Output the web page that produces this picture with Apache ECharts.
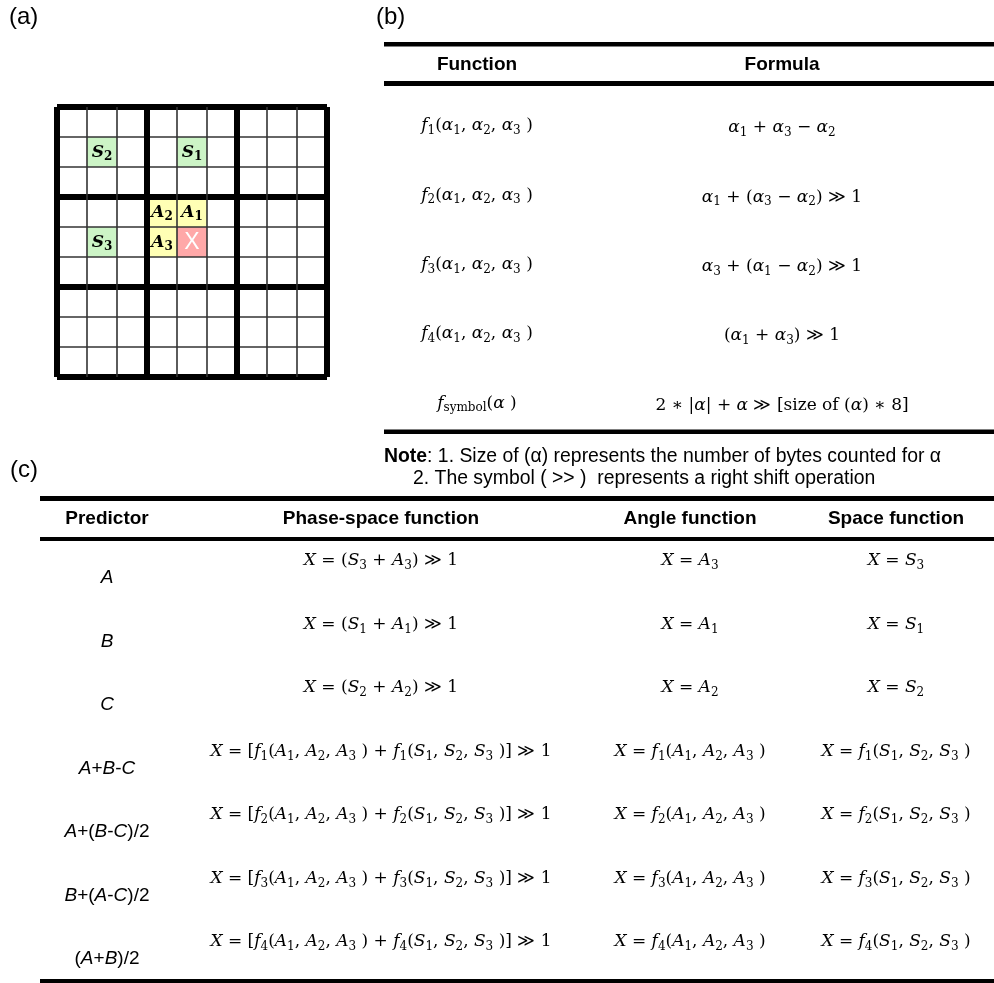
<!DOCTYPE html>
<html>
<head>
<meta charset="utf-8">
<script src="https://cdn.jsdelivr.net/npm/echarts@6/dist/echarts.min.js"></script>
<style>
  html, body { margin: 0; padding: 0; background: #fff; }
  #chart { width: 994px; height: 983px; }
</style>
</head>
<body>
<div id="chart"></div>
<script>
// ---------- (a) neighbourhood of the predicted sample in the 9x9 layout ----------
const gridSize = 9;
const blockSize = 3;
const cellNames = ['S', 'S', 'S', 'A', 'A', 'A', 'X'];
const cellSubs  = ['2', '1', '3', '2', '1', '3', ''];
const cellCols  = [1, 4, 1, 3, 4, 3, 4];
const cellRows  = [1, 1, 4, 3, 3, 4, 4];
const cellKinds = ['space', 'space', 'space', 'angle', 'angle', 'angle', 'target'];

// ---------- (b) helper functions ----------
const bHeaders = ['Function', 'Formula'];
const bFunctions = [
  '{i|f}{s|1}({i|α}{s|1}, {i|α}{s|2}, {i|α}{s|3} )',
  '{i|f}{s|2}({i|α}{s|1}, {i|α}{s|2}, {i|α}{s|3} )',
  '{i|f}{s|3}({i|α}{s|1}, {i|α}{s|2}, {i|α}{s|3} )',
  '{i|f}{s|4}({i|α}{s|1}, {i|α}{s|2}, {i|α}{s|3} )',
  '{i|f}{s|symbol}({i|α} )'
];
const bFormulas = [
  '{i|α}{s|1} + {i|α}{s|3} − {i|α}{s|2}',
  '{i|α}{s|1} + ({i|α}{s|3} − {i|α}{s|2}) ≫ 1',
  '{i|α}{s|3} + ({i|α}{s|1} − {i|α}{s|2}) ≫ 1',
  '({i|α}{s|1} + {i|α}{s|3}) ≫ 1',
  '2 ∗ |{i|α}| + {i|α} ≫ [size of ({i|α}) ∗ 8]'
];
const noteLines = [
  '{b|Note}: 1. Size of (α) represents the number of bytes counted for α',
  '2. The symbol ( >> )  represents a right shift operation'
];

// ---------- (c) predictors ----------
const cHeaders = ['Predictor', 'Phase-space function', 'Angle function', 'Space function'];
const cPredictors = [
  '{i|A}', '{i|B}', '{i|C}',
  '{i|A}+{i|B}-{i|C}',
  '{i|A}+({i|B}-{i|C})/2',
  '{i|B}+({i|A}-{i|C})/2',
  '({i|A}+{i|B})/2'
];
const cPhase = [
  '{i|X} = ({i|S}{s|3} + {i|A}{s|3}) ≫ 1',
  '{i|X} = ({i|S}{s|1} + {i|A}{s|1}) ≫ 1',
  '{i|X} = ({i|S}{s|2} + {i|A}{s|2}) ≫ 1',
  '{i|X} = [{i|f}{s|1}({i|A}{s|1}, {i|A}{s|2}, {i|A}{s|3} ) + {i|f}{s|1}({i|S}{s|1}, {i|S}{s|2}, {i|S}{s|3} )] ≫ 1',
  '{i|X} = [{i|f}{s|2}({i|A}{s|1}, {i|A}{s|2}, {i|A}{s|3} ) + {i|f}{s|2}({i|S}{s|1}, {i|S}{s|2}, {i|S}{s|3} )] ≫ 1',
  '{i|X} = [{i|f}{s|3}({i|A}{s|1}, {i|A}{s|2}, {i|A}{s|3} ) + {i|f}{s|3}({i|S}{s|1}, {i|S}{s|2}, {i|S}{s|3} )] ≫ 1',
  '{i|X} = [{i|f}{s|4}({i|A}{s|1}, {i|A}{s|2}, {i|A}{s|3} ) + {i|f}{s|4}({i|S}{s|1}, {i|S}{s|2}, {i|S}{s|3} )] ≫ 1'
];
const cAngle = [
  '{i|X} = {i|A}{s|3}',
  '{i|X} = {i|A}{s|1}',
  '{i|X} = {i|A}{s|2}',
  '{i|X} = {i|f}{s|1}({i|A}{s|1}, {i|A}{s|2}, {i|A}{s|3} )',
  '{i|X} = {i|f}{s|2}({i|A}{s|1}, {i|A}{s|2}, {i|A}{s|3} )',
  '{i|X} = {i|f}{s|3}({i|A}{s|1}, {i|A}{s|2}, {i|A}{s|3} )',
  '{i|X} = {i|f}{s|4}({i|A}{s|1}, {i|A}{s|2}, {i|A}{s|3} )'
];
const cSpace = [
  '{i|X} = {i|S}{s|3}',
  '{i|X} = {i|S}{s|1}',
  '{i|X} = {i|S}{s|2}',
  '{i|X} = {i|f}{s|1}({i|S}{s|1}, {i|S}{s|2}, {i|S}{s|3} )',
  '{i|X} = {i|f}{s|2}({i|S}{s|1}, {i|S}{s|2}, {i|S}{s|3} )',
  '{i|X} = {i|f}{s|3}({i|S}{s|1}, {i|S}{s|2}, {i|S}{s|3} )',
  '{i|X} = {i|f}{s|4}({i|S}{s|1}, {i|S}{s|2}, {i|S}{s|3} )'
];

// ---------- styling ----------
const SANS = '"Liberation Sans", Arial, Helvetica, sans-serif';
const SERIF = '"DejaVu Serif", "Liberation Serif", serif';
const MATH_SIZE = 17;
const SUB_SIZE = 12;
const TEXT_SIZE = 19;

const cellFill = { space: '#ccf4c6', angle: '#ffffb4', target: '#ffa8a8' };

const mathRich = {
  i: { fontFamily: SERIF, fontSize: MATH_SIZE, fontStyle: 'italic', fill: '#000' },
  s: { fontFamily: SERIF, fontSize: SUB_SIZE, padding: [10, 0, 0, 0], fill: '#000' }
};
const sansRich = {
  i: { fontFamily: SANS, fontSize: TEXT_SIZE, fontStyle: 'italic', fill: '#000' },
  b: { fontFamily: SANS, fontSize: 19.4, fontWeight: 'bold', fill: '#000' }
};

function mathText(text, x, y) {
  return {
    type: 'text', silent: true,
    style: {
      text: text, x: x, y: y,
      fontFamily: SERIF, fontSize: MATH_SIZE, fill: '#000',
      textAlign: 'center', textVerticalAlign: 'middle',
      rich: mathRich
    }
  };
}
function sansText(text, x, y, opt) {
  opt = opt || {};
  return {
    type: 'text', silent: true,
    style: {
      text: text, x: x, y: y,
      fontFamily: SANS, fontSize: opt.size || TEXT_SIZE,
      fontWeight: opt.bold ? 'bold' : 'normal',
      fill: '#000',
      textAlign: opt.align || 'center', textVerticalAlign: 'middle',
      rich: sansRich
    }
  };
}
function rule(x1, x2, y, h) {
  return { type: 'rect', silent: true, shape: { x: x1, y: y, width: x2 - x1, height: h }, style: { fill: '#000' } };
}

// table layouts
const B = { left: 384, right: 994, topRule: 42, headRule: 81, botRule: 429.5,
            headerY: 65, rowY0: 126, rowStep: 69.3, colX: [477, 782], formulaDy: 2,
            noteX: [384, 413], noteY: [457, 479], noteSize: 19.4 };
const C = { left: 40, right: 994, topRule: 496, headRule: 537, botRule: 979,
            headerY: 519, rowY0: 561, rowStep: 63.5, colX: [107, 381, 690, 896], predDy: 17 };

const graphics = [];
// panel letters
graphics.push(sansText('(a)', 9, 17, { size: 24, align: 'left' }));
graphics.push(sansText('(b)', 376, 17, { size: 24, align: 'left' }));
graphics.push(sansText('(c)', 10, 470, { size: 24, align: 'left' }));

// (b)
graphics.push(rule(B.left, B.right, B.topRule, 4.5));
graphics.push(rule(B.left, B.right, B.headRule, 5));
graphics.push(rule(B.left, B.right, B.botRule, 4.5));
bHeaders.forEach(function (h, j) { graphics.push(sansText(h, B.colX[j], B.headerY, { bold: true })); });
bFunctions.forEach(function (t, k) { graphics.push(mathText(t, B.colX[0], B.rowY0 + k * B.rowStep)); });
bFormulas.forEach(function (t, k) { graphics.push(mathText(t, B.colX[1], B.rowY0 + k * B.rowStep + B.formulaDy)); });
noteLines.forEach(function (t, k) {
  graphics.push(sansText(t, B.noteX[k], B.noteY[k], { align: 'left', size: B.noteSize }));
});

// (c)
graphics.push(rule(C.left, C.right, C.topRule, 5));
graphics.push(rule(C.left, C.right, C.headRule, 4));
graphics.push(rule(C.left, C.right, C.botRule, 4));
cHeaders.forEach(function (h, j) { graphics.push(sansText(h, C.colX[j], C.headerY, { bold: true })); });
cPredictors.forEach(function (t, k) { graphics.push(sansText(t, C.colX[0], C.rowY0 + k * C.rowStep + C.predDy)); });
[cPhase, cAngle, cSpace].forEach(function (col, j) {
  col.forEach(function (t, k) { graphics.push(mathText(t, C.colX[j + 1], C.rowY0 + k * C.rowStep)); });
});

const thin = { show: true, lineStyle: { color: '#333', width: 1.6 } };
const thick = { show: true, lineStyle: { color: '#000', width: 6 } };
function gridAxis(interval, split) {
  return {
    type: 'value', gridIndex: 0, min: 0, max: gridSize, interval: interval, z: 3,
    axisLine: { show: false }, axisTick: { show: false }, axisLabel: { show: false },
    splitLine: split
  };
}
const yThin = gridAxis(1, thin); yThin.inverse = true;
const yThick = gridAxis(blockSize, thick); yThick.inverse = true;

const chart = echarts.init(document.getElementById('chart'), null, { renderer: 'canvas' });
chart.setOption({
  backgroundColor: '#fff',
  animation: false,
  grid: [{ left: 57, top: 107, width: 270, height: 270, containLabel: false, outerBoundsMode: 'none' }],
  xAxis: [gridAxis(1, thin), gridAxis(blockSize, thick)],
  yAxis: [yThin, yThick],
  series: [{
    type: 'custom',
    z: 1,
    silent: true,
    xAxisIndex: 0, yAxisIndex: 0,
    data: cellCols.map(function (c, i) { return [c, cellRows[i], i]; }),
    renderItem: function (params, api) {
      const i = api.value(2);
      const c = api.value(0), r = api.value(1);
      const p0 = api.coord([c, r]), p1 = api.coord([c + 1, r + 1]);
      const x = Math.min(p0[0], p1[0]), y = Math.min(p0[1], p1[1]);
      const w = Math.abs(p1[0] - p0[0]), h = Math.abs(p1[1] - p0[1]);
      const kind = cellKinds[i];
      const isTarget = kind === 'target';
      const label = isTarget ? cellNames[i] : '{v|' + cellNames[i] + '}{s|' + cellSubs[i] + '}';
      return {
        type: 'group',
        children: [
          { type: 'rect', shape: { x: x, y: y, width: w, height: h }, style: { fill: cellFill[kind] } },
          {
            type: 'text',
            style: {
              text: label, x: x + w / 2, y: y + h / 2 + (isTarget ? 1 : 1),
              textAlign: 'center', textVerticalAlign: 'middle',
              fontFamily: isTarget ? SANS : SERIF, fontSize: isTarget ? 23 : 17,
              fill: isTarget ? '#fff' : '#000',
              rich: {
                v: { fontFamily: SERIF, fontSize: 17, fontStyle: 'italic', fontWeight: 'bold', fill: '#000' },
                s: { fontFamily: SERIF, fontSize: 12, fontWeight: 'bold', padding: [8, 0, 0, 0], fill: '#000' }
              }
            }
          }
        ]
      };
    }
  }],
  graphic: { elements: graphics }
});
</script>
</body>
</html>
